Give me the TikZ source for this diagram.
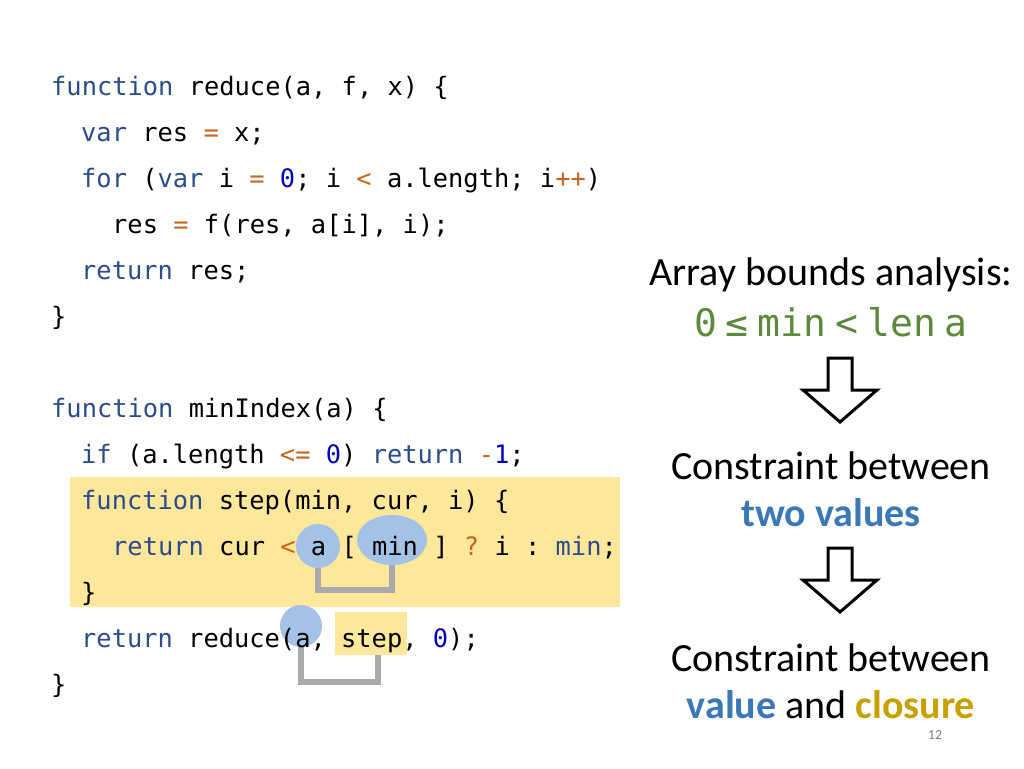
\documentclass[tikz,border=0pt]{standalone}
\usepackage{fontspec}
\setmainfont{Carlito}
\setmonofont{DejaVu Sans Mono}
\usepackage{xcolor}
\usetikzlibrary{positioning}
\definecolor{kwblue}{HTML}{2B4C8C}
\definecolor{opor}{HTML}{C8641E}
\definecolor{numblue}{HTML}{0000C0}
\definecolor{hlyel}{HTML}{FDE79A}
\definecolor{bubble}{HTML}{A4C2E6}
\definecolor{linkgray}{HTML}{AAAAAA}
\definecolor{formgreen}{HTML}{5A8A3A}
\definecolor{valblue}{HTML}{3A78B8}
\definecolor{closgold}{HTML}{C8A000}
\newcommand{\kw}[1]{\textcolor{kwblue}{#1}}
\newcommand{\op}[1]{\textcolor{opor}{#1}}
\newcommand{\nm}[1]{\textcolor{numblue}{#1}}
\tikzset{
code/.style={anchor=base west, inner sep=0pt, font=\ttfamily\fontsize{25.4}{30}\selectfont},
slide/.style={align=center, font=\fontsize{40}{47}\selectfont},
bubble/.style={fill=bubble, ellipse, inner sep=0pt}, % blue marks on the code
link/.style={draw=linkgray, line width=6pt}, % gray brackets
hollow/.style={draw=black, line width=3pt, fill=white, line join=miter},
}
\usetikzlibrary{shapes.geometric}
\begin{document}
\begin{tikzpicture}[x=1pt,y=-1pt]
    \useasboundingbox (0,0) rectangle (1024,768);
    % highlighted closure
    \fill[hlyel] (70,477) rectangle (620,607);
    \fill[hlyel] (335,612) rectangle (407,655);
    \node[bubble, minimum width=44pt, minimum height=44pt] (ba) at (318,546) {};
    \node[bubble, minimum width=70pt, minimum height=50pt] (bmin) at (392,540) {};
    \node[bubble, minimum width=42pt, minimum height=42pt] (bra) at (301,626) {};
    \coordinate (bstep) at (378,655);
    \draw[link] (ba.south) -- (318,590) -| (bmin.south);
    \draw[link] (bra.south) -- (301,682) -| (bstep);

    % code
    \node[code] (l1) at (51,95) {\kw{function} reduce(a, f, x) \{};
    \node[code] (l2) at (81,141) {\kw{var} res \op{=} x;};
    \node[code] (l3) at (81,187) {\kw{for} (\kw{var} i \op{=} \nm{0}; i \op{<} a.length; i\op{++})};
    \node[code] (l4) at (112,233) {res \op{=} f(res, a[i], i);};
    \node[code] (l5) at (81,279) {\kw{return} res;};
    \node[code] (l6) at (51,325) {\}};
    \node[code] (l7) at (51,417) {\kw{function} minIndex(a) \{};
    \node[code] (l8) at (81,463) {\kw{if} (a.length \op{<=} \nm{0}) \kw{return} \op{-}\nm{1};};
    \node[code] (l9) at (81,509) {\kw{function} step(min, cur, i) \{};
    \node[code] (l10) at (112,555) {\kw{return} cur \op{<} a [ min ] \op{?} i : \kw{min};};
    \node[code] (l11) at (81,601) {\}};
    \node[code] (l12) at (81,647) {\kw{return} reduce(a, step, \nm{0});};
    \node[code] (l13) at (51,693) {\}};

    % right column
    \node[slide] (bounds) at (831,275) {Array bounds analysis:};
    \node[slide, font=\ttfamily\fontsize{38}{44}\selectfont, text=formgreen] (form) at (831,322) {0\hspace{9pt}≤\hspace{9pt}min\hspace{9pt}<\hspace{9pt}len\hspace{9pt}a};
    \node[slide] (two) at (831,489) {Constraint between\\\textbf{\textcolor{valblue}{two values}}};
    \node[slide] (clos) at (831,681) {Constraint between\\\textbf{\textcolor{valblue}{value}} and \textbf{\textcolor{closgold}{closure}}};
    \node[font=\fontsize{14}{16}\selectfont, text=gray] (page) at (935,735) {12};

    % hollow arrows
    \draw[hollow] (828,358) -- (852,358) -- (852,390) -- (877,390) -- (840,422) -- (803,390) -- (828,390) -- cycle;
    \draw[hollow] (828,548) -- (852,548) -- (852,580) -- (877,580) -- (840,612) -- (803,580) -- (828,580) -- cycle;
\end{tikzpicture}
\end{document}
